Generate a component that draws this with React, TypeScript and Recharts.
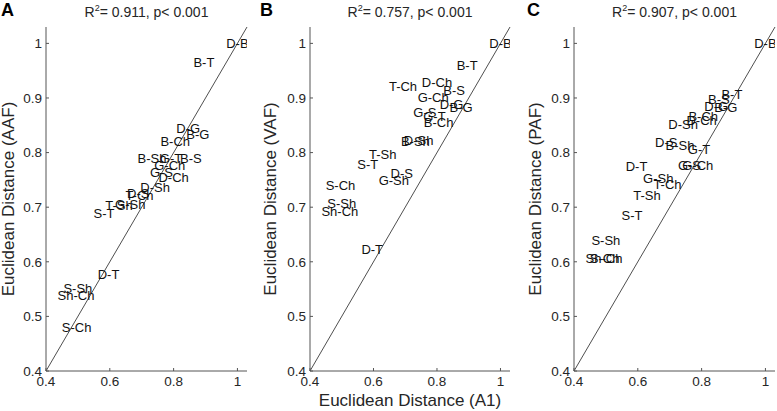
import React from 'react';
import { ScatterChart, Scatter, XAxis, YAxis, ReferenceLine } from 'recharts';

const FONT = '"Liberation Sans", Arial, Helvetica, sans-serif';

// sound pairs
const pairs = ['D-B', 'B-T', 'D-G', 'B-G', 'B-S', 'B-Ch', 'D-Ch', 'G-T', 'G-Ch', 'G-S', 'D-Sh', 'B-Sh', 'D-S', 'T-Ch', 'G-Sh', 'T-Sh', 'S-T', 'D-T', 'S-Sh', 'Sh-Ch', 'S-Ch'];
// Euclidean distance in A1 (x axis, shared)
const distA1 = [1.0, 0.895, 0.846, 0.876, 0.854, 0.805, 0.8, 0.792, 0.788, 0.762, 0.742, 0.732, 0.689, 0.693, 0.664, 0.629, 0.582, 0.596, 0.5, 0.494, 0.496];
// Euclidean distance in AAF / VAF / PAF (y axes)
const distAAF = [1.0, 0.965, 0.844, 0.834, 0.79, 0.82, 0.755, 0.79, 0.776, 0.764, 0.736, 0.79, 0.725, 0.722, 0.705, 0.703, 0.688, 0.576, 0.551, 0.538, 0.479];
const distVAF = [1.0, 0.959, 0.889, 0.883, 0.914, 0.855, 0.928, 0.867, 0.901, 0.873, 0.822, 0.82, 0.762, 0.922, 0.749, 0.797, 0.778, 0.622, 0.706, 0.693, 0.74];
const distPAF = [1.0, 0.907, 0.884, 0.882, 0.897, 0.867, 0.859, 0.806, 0.776, 0.776, 0.852, 0.813, 0.819, 0.741, 0.752, 0.721, 0.685, 0.775, 0.64, 0.607, 0.607];

const xTicks = [0.4, 0.6, 0.8, 1];
const yTicks = [0.4, 0.5, 0.6, 0.7, 0.8, 0.9, 1];
const axisDomain = [0.4, 1.03];

const build = (ys: number[]) => pairs.map((label, i) => ({ label, x: distA1[i], y: ys[i] }));

const LabelShape = (props: any) => {
  const cx = props.cx ?? (props.x + (props.width || 0) / 2);
  const cy = props.cy ?? (props.y + (props.height || 0) / 2);
  return (
    <text x={cx} y={cy} dy="0.35em" textAnchor="middle" fontSize={13} fontFamily={FONT} fill="#111">
      {props.payload.label}
    </text>
  );
};

const fmt = (v: number) => String(Math.round(v * 10) / 10);

type PanelProps = {
  left: number;
  width: number;
  yAxisWidth: number;
  marginRight: number;
  ys: number[];
  yLabel: string;
  yLabelOffset: number;
  xLabel?: string;
};

function Panel({ left, width, yAxisWidth, marginRight, ys, yLabel, yLabelOffset, xLabel }: PanelProps) {
  const tickStyle = { fontSize: 13.5, fill: '#262626', fontFamily: FONT };
  return (
    <div style={{ position: 'absolute', left, top: 0 }}>
      <ScatterChart width={width} height={411} margin={{ top: 27, right: marginRight, bottom: 0, left: 0 }}>
        <XAxis
          type="number"
          dataKey="x"
          domain={axisDomain}
          ticks={xTicks}
          tickFormatter={fmt}
          allowDataOverflow
          height={40}
          axisLine={{ stroke: '#555' }}
          tickLine={{ stroke: '#555' }}
          tickSize={-3}
          tickMargin={8}
          tick={tickStyle}
          label={
            xLabel
              ? { value: xLabel, position: 'insideBottom', offset: 5, style: { fontSize: 17, fill: '#262626', fontFamily: FONT } }
              : undefined
          }
        />
        <YAxis
          type="number"
          dataKey="y"
          domain={axisDomain}
          ticks={yTicks}
          tickFormatter={fmt}
          allowDataOverflow
          width={yAxisWidth}
          axisLine={{ stroke: '#555' }}
          tickLine={{ stroke: '#555' }}
          tickSize={-3}
          tickMargin={7}
          tick={tickStyle}
          label={{
            value: yLabel,
            angle: -90,
            position: 'insideLeft',
            offset: yLabelOffset,
            style: { textAnchor: 'middle', fontSize: 17, fill: '#262626', fontFamily: FONT },
          }}
        />
        <ReferenceLine
          segment={[{ x: 0.4, y: 0.4 }, { x: 1.03, y: 1.03 }]}
          stroke="#222"
          strokeWidth={0.8}
          ifOverflow="visible"
        />
        <Scatter data={build(ys)} shape={LabelShape} isAnimationActive={false} />
      </ScatterChart>
    </div>
  );
}

const titles = [
  { letter: 'A', lx: 1, cx: 146.5, r2: '0.911' },
  { letter: 'B', lx: 260, cx: 410, r2: '0.757' },
  { letter: 'C', lx: 527, cx: 674.5, r2: '0.907' },
];

export default function App() {
  return (
    <div style={{ position: 'absolute', left: 0, top: 0, width: 777, height: 411, background: '#fff', overflow: 'hidden' }}>
      <Panel left={0} width={259} yAxisWidth={46} marginRight={12} ys={distAAF} yLabel="Euclidean Distance (AAF)" yLabelOffset={8} />
      <Panel left={259} width={262} yAxisWidth={51} marginRight={11} ys={distVAF} yLabel="Euclidean Distance (VAF)" yLabelOffset={11} xLabel="Euclidean Distance (A1)" />
      <Panel left={521} width={256} yAxisWidth={53} marginRight={2} ys={distPAF} yLabel="Euclidean Distance (PAF)" yLabelOffset={14} />
      <svg width={777} height={411} style={{ position: 'absolute', left: 0, top: 0, pointerEvents: 'none' }}>
        {titles.map((t) => (
          <g key={t.letter} fontFamily={FONT}>
            <text x={t.lx} y={16} fontSize={18} fontWeight="bold" fill="#000">{t.letter}</text>
            <text x={t.cx} y={17} fontSize={14} textAnchor="middle" fill="#262626">
              R<tspan fontSize={9} dy={-6}>2</tspan>
              <tspan dy={6}>{`= ${t.r2}, p< 0.001`}</tspan>
            </text>
          </g>
        ))}
      </svg>
    </div>
  );
}
